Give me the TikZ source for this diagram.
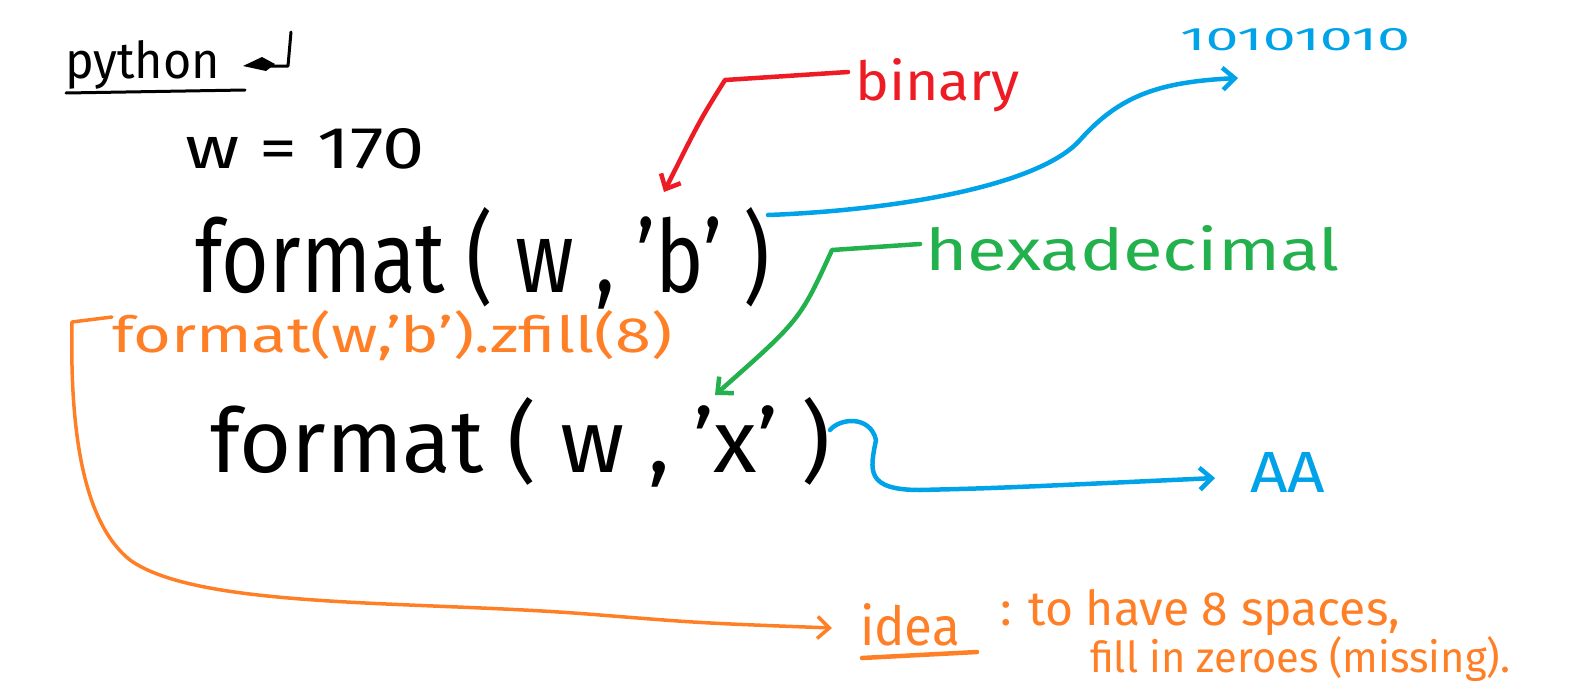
\documentclass[tikz,border=0pt]{standalone}
\usepackage{fontspec}
\setmainfont{Fira Sans}
\usepackage{graphicx}
\usetikzlibrary{arrows.meta}
\definecolor{hred}{HTML}{ED1C24}
\definecolor{hblue}{HTML}{00A2E8}
\definecolor{hgreen}{HTML}{22B14C}
\definecolor{horange}{HTML}{FF7F27}
\tikzset{
  txt/.style={anchor=base west, inner sep=0pt, outer sep=0pt},
  pen/.style={line width=4.5pt, line cap=round, line join=round},
  tip/.style={-{Straight Barb[length=12pt,width=22pt]}},
}
\begin{document}
\begin{tikzpicture}[x=1pt,y=-1pt]
\useasboundingbox (0,0) rectangle (1579,683);
% black texts
\node[txt] (py) at (65,78) {\resizebox{155pt}{38pt}{python}};
\draw[pen, line width=3pt] (66,93) -- (245,90);
\fill (243,66) -- (262,57) -- (275,64) -- (266,71) -- cycle;
\draw[pen, line width=3pt] (262,66) -- (288,66) -- (291,32);
\node[txt] (w) at (185,168) {\resizebox{240pt}{40pt}{w = 170}};
\node[txt] (fb) at (195,292) {\resizebox{575pt}{85pt}{format ( w , 'b' )}};
\node[txt] (fx) at (210,472) {\resizebox{620pt}{75pt}{format ( w , 'x' )}};
% red
\node[txt, text=hred] (bin) at (855,100) {\resizebox{165pt}{42pt}{binary}};
\coordinate (rc) at (725,80);
\coordinate (rt) at (664,192);
\draw[pen, hred, tip] (848,72) -- (rc) .. controls (700,120) .. (rt);
% blue top
\node[txt, text=hblue] (bits) at (1180,50) {\resizebox{230pt}{22pt}{10101010}};
\coordinate (bs) at (768,215);
\coordinate (be) at (1238,78);
\draw[pen, hblue, tip] (bs) .. controls (900,210) and (1040,185) .. (1080,140)
  .. controls (1120,95) and (1160,82) .. (be);
% green
\node[txt, text=hgreen] (hex) at (925,270) {\resizebox{415pt}{45pt}{hexadecimal}};
\coordinate (gc) at (832,250);
\coordinate (gt) at (715,395);
\draw[pen, hgreen, tip] (920,244) -- (gc) .. controls (800,320) .. (gt);
% orange
\node[txt, text=horange] (zf) at (112,352) {\resizebox{560pt}{42pt}{format(w,'b').zfill(8)}};
\node[txt, text=horange] (idea) at (860,645) {\resizebox{100pt}{42pt}{idea}};
\draw[pen, horange] (862,658) -- (977,652);
\node[txt, text=horange] (l1) at (1000,625) {\resizebox{400pt}{36pt}{: to have 8 spaces,}};
\node[txt, text=horange] (l2) at (1090,672) {\resizebox{420pt}{36pt}{fill in zeroes (missing).}};
\coordinate (os) at (112,317);
\coordinate (oe) at (832,628);
\draw[pen, horange, line width=3.5pt, tip] (os) -- (72,322) .. controls (70,420) and (80,520) .. (130,560)
  .. controls (200,610) and (420,600) .. (600,615) .. controls (700,623) .. (oe);
% blue bottom
\node[txt, text=hblue] (aa) at (1250,492) {\resizebox{75pt}{40pt}{AA}};
\coordinate (xs) at (830,430);
\coordinate (xe) at (1215,478);
\draw[pen, hblue, tip] (xs) .. controls (840,418) and (870,415) .. (876,440)
  .. controls (870,470) and (865,490) .. (920,490) .. controls (1000,488) .. (xe);
\end{tikzpicture}
\end{document}
